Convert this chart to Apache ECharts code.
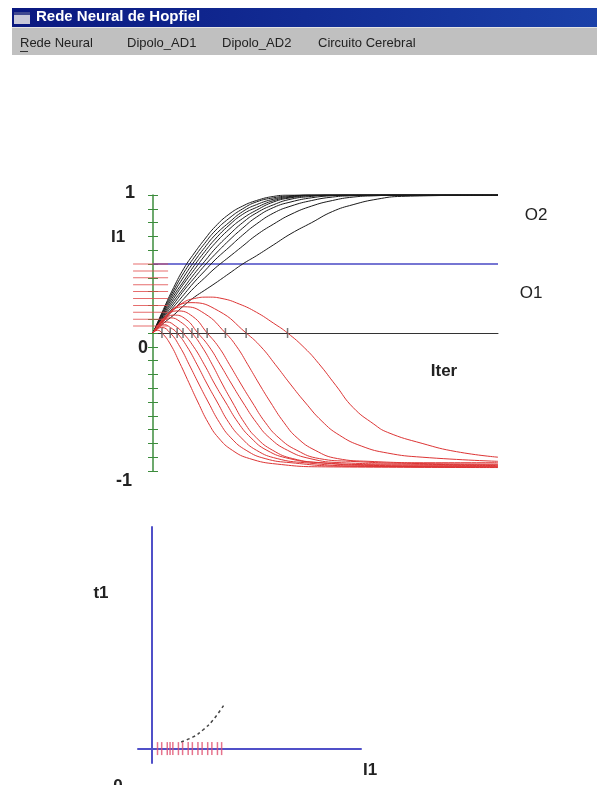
<!DOCTYPE html>
<html>
<head>
<meta charset="utf-8">
<script src="https://cdn.jsdelivr.net/npm/echarts@6/dist/echarts.min.js"></script>
<style>
html, body { margin: 0; padding: 0; background: #fff; }
#chart { width: 600px; height: 785px; }
</style>
</head>
<body>
<div id="chart"></div>
<script>
// iterations for the O2 curves (black)
var o2Iter = [0, 3, 6, 9, 12, 15, 18, 22, 26, 30, 35, 40, 46, 52, 58, 65, 72, 100];
var o2Curves = [
    [0, 0.17, 0.33, 0.47, 0.58, 0.68, 0.77, 0.86, 0.92, 0.96, 0.99, 1, 1, 1, 1, 1, 1, 1],
    [0, 0.16, 0.31, 0.44, 0.55, 0.65, 0.74, 0.83, 0.9, 0.95, 0.98, 0.995, 1, 1, 1, 1, 1, 1],
    [0, 0.15, 0.29, 0.41, 0.52, 0.62, 0.71, 0.8, 0.88, 0.93, 0.97, 0.99, 1, 1, 1, 1, 1, 1],
    [0, 0.14, 0.27, 0.38, 0.49, 0.59, 0.68, 0.78, 0.86, 0.91, 0.96, 0.985, 1, 1, 1, 1, 1, 1],
    [0, 0.13, 0.25, 0.36, 0.46, 0.56, 0.65, 0.75, 0.83, 0.89, 0.95, 0.98, 0.995, 1, 1, 1, 1, 1],
    [0, 0.12, 0.23, 0.33, 0.43, 0.52, 0.61, 0.71, 0.8, 0.87, 0.93, 0.97, 0.99, 1, 1, 1, 1, 1],
    [0, 0.11, 0.21, 0.31, 0.4, 0.49, 0.57, 0.67, 0.76, 0.84, 0.91, 0.95, 0.98, 0.995, 1, 1, 1, 1],
    [0, 0.1, 0.19, 0.28, 0.37, 0.45, 0.53, 0.62, 0.71, 0.79, 0.87, 0.92, 0.96, 0.985, 0.995, 1, 1, 1],
    [0, 0.09, 0.17, 0.25, 0.33, 0.4, 0.47, 0.55, 0.63, 0.71, 0.79, 0.86, 0.92, 0.96, 0.985, 0.995, 1, 1],
    [0, 0.07, 0.13, 0.2, 0.26, 0.31, 0.36, 0.43, 0.5, 0.56, 0.64, 0.72, 0.8, 0.88, 0.93, 0.97, 0.99, 1]
];

// O1 curves (red), [iter, value]
var o1Curves = [
    [[0,0],[1.3,0.02],[2.6,0],[5,-0.08],[7.8,-0.22],[10.4,-0.36],[13,-0.5],[16,-0.65],[19,-0.76],[23,-0.85],[28,-0.91],[36,-0.95],[50,-0.97],[100,-0.975]],
    [[0,0],[2.5,0.04],[5,0],[7.8,-0.1],[10.5,-0.23],[13.3,-0.37],[16,-0.5],[19.3,-0.65],[22.6,-0.76],[27,-0.85],[32.5,-0.91],[40,-0.94],[55,-0.965],[100,-0.97]],
    [[0,0],[1.5,0.04],[3.3,0.06],[5,0.04],[7,0],[9.9,-0.1],[12.8,-0.23],[15.7,-0.37],[18.6,-0.5],[22,-0.65],[25.6,-0.76],[30,-0.85],[36,-0.91],[44,-0.94],[60,-0.965],[100,-0.97]],
    [[0,0],[2,0.05],[4,0.08],[6.5,0.05],[8.7,0],[11.8,-0.1],[14.9,-0.23],[17.9,-0.37],[21,-0.5],[24.7,-0.65],[28.4,-0.76],[33,-0.85],[39.5,-0.91],[48,-0.94],[64,-0.96],[100,-0.965]],
    [[0,0],[2.5,0.07],[5,0.11],[8,0.08],[11.3,0],[14.2,-0.1],[17.2,-0.23],[20.1,-0.37],[23,-0.5],[26.5,-0.65],[30,-0.76],[34.7,-0.85],[40.5,-0.91],[49,-0.94],[66,-0.955],[100,-0.96]],
    [[0,0],[3,0.09],[6,0.13],[9.5,0.1],[13,0],[16.3,-0.1],[19.5,-0.23],[22.8,-0.37],[26,-0.5],[30,-0.65],[33.8,-0.76],[39,-0.85],[45.5,-0.91],[54.6,-0.94],[72,-0.95],[100,-0.955]],
    [[0,0],[3.5,0.11],[7,0.16],[11.5,0.12],[15.7,0],[19,-0.1],[22.2,-0.23],[25.5,-0.37],[28.7,-0.5],[32.6,-0.65],[36.5,-0.76],[41.7,-0.85],[48.2,-0.91],[57.3,-0.93],[75,-0.945],[100,-0.95]],
    [[0,0],[4,0.13],[9,0.19],[15,0.14],[21,0],[24.3,-0.1],[27.5,-0.23],[30.8,-0.37],[34,-0.5],[38,-0.65],[41.8,-0.76],[47,-0.85],[53.5,-0.91],[62.6,-0.93],[80,-0.94],[100,-0.94]],
    [[0,0],[5,0.15],[11,0.22],[19,0.16],[27,0],[31.3,-0.1],[35.5,-0.23],[39.8,-0.37],[44,-0.5],[49,-0.64],[54,-0.74],[60.5,-0.82],[68,-0.87],[78,-0.9],[100,-0.93]],
    [[0,0],[4,0.13],[8,0.21],[12,0.25],[16,0.26],[20,0.25],[25,0.21],[30,0.15],[35,0.07],[39,0],[44,-0.11],[48,-0.22],[53,-0.38],[58,-0.54],[64,-0.66],[68,-0.72],[78,-0.8],[88,-0.86],[100,-0.9]]
];

var inputLevels = [0.05, 0.1, 0.15, 0.2, 0.25, 0.3, 0.35, 0.4, 0.45, 0.5];
var zeroCross = [2.6, 5, 7, 8.7, 11.3, 13, 15.7, 21, 27, 39];
var iterRange = [0, 100];
var blueLevel = 0.5;

// bottom plot: t1 against I1
var i1Ticks = [0.04, 0.07, 0.11, 0.13, 0.15, 0.19, 0.22, 0.26, 0.29, 0.33, 0.36, 0.4, 0.43, 0.47, 0.5];
var t1Curve = [[0.21, 0.03], [0.3, 0.054], [0.37, 0.086], [0.44, 0.13], [0.52, 0.2]];

var menuItems = ['Rede Neural', 'Dipolo_AD1', 'Dipolo_AD2', 'Circuito Cerebral'];
var menuX = [20, 127, 222, 318];

var FONT = 'Liberation Sans, Arial, sans-serif';
var myChart = echarts.init(document.getElementById('chart'));

var series = [];
o2Curves.forEach(function (c) {
    series.push({
        type: 'line',
        xAxisIndex: 0, yAxisIndex: 0,
        data: o2Iter.map(function (x, i) { return [x, c[i]]; }),
        showSymbol: false,
        smooth: 0.5,
        lineStyle: { color: '#1a1a1a', width: 1 },
        z: 3
    });
});
o1Curves.forEach(function (c) {
    series.push({
        type: 'line',
        xAxisIndex: 0, yAxisIndex: 0,
        data: c,
        showSymbol: false,
        smooth: 0.5,
        lineStyle: { color: '#dd3535', width: 1 },
        z: 4
    });
});
// blue reference line
series.push({
    type: 'line',
    xAxisIndex: 0, yAxisIndex: 0,
    data: [[iterRange[0], blueLevel], [iterRange[1], blueLevel]],
    showSymbol: false,
    lineStyle: { color: '#4848c4', width: 1.5 },
    z: 2
});
// input level dashes on the left
series.push({
    type: 'scatter',
    xAxisIndex: 0, yAxisIndex: 0,
    data: inputLevels.map(function (v) { return [-0.7, v]; }),
    symbol: 'rect',
    symbolSize: [35, 1],
    itemStyle: { color: '#e04848' },
    clip: false,
    z: 5
});
// zero crossing marks
series.push({
    type: 'scatter',
    xAxisIndex: 0, yAxisIndex: 0,
    data: zeroCross.map(function (x) { return [x, 0]; }),
    symbol: 'rect',
    symbolSize: [1.5, 10],
    itemStyle: { color: '#555' },
    z: 6
});
// bottom plot
series.push({
    type: 'scatter',
    xAxisIndex: 1, yAxisIndex: 2,
    data: i1Ticks.map(function (x) { return [x, 0]; }),
    symbol: 'rect',
    symbolSize: [1.5, 13],
    itemStyle: { color: '#e05070' },
    z: 5
});
series.push({
    type: 'line',
    xAxisIndex: 1, yAxisIndex: 2,
    data: t1Curve,
    showSymbol: false,
    smooth: 0.4,
    lineStyle: { color: '#444', width: 1.5, type: [3, 3] },
    z: 5
});

var txt = function (x, y, s, size, weight, align) {
    return {
        type: 'text', x: x, y: y, z: 20,
        style: {
            text: s, fill: '#222', font: (weight || 'normal') + ' ' + size + 'px ' + FONT,
            textAlign: align || 'center', textVerticalAlign: 'middle'
        }
    };
};

var graphics = [
    {
        type: 'rect', shape: { x: 12, y: 8, width: 585, height: 19 },
        style: {
            fill: new echarts.graphic.LinearGradient(0, 0, 1, 0, [
                { offset: 0, color: '#0a1880' },
                { offset: 1, color: '#1a40a8' }
            ])
        }
    },
    { type: 'rect', shape: { x: 14, y: 12, width: 16, height: 12 }, style: { fill: '#c8c8d8' } },
    { type: 'rect', shape: { x: 14, y: 12, width: 16, height: 3 }, style: { fill: '#404890' } },
    {
        type: 'text', x: 36, y: 17,
        style: { text: 'Rede Neural de Hopfiel', fill: '#fff', font: 'bold 15px ' + FONT, textVerticalAlign: 'middle' }
    },
    { type: 'rect', shape: { x: 12, y: 27, width: 585, height: 28 }, style: { fill: '#c0c0c0' } },
    { type: 'rect', shape: { x: 12, y: 27, width: 585, height: 1 }, style: { fill: '#e4e4e4' } },
    { type: 'rect', shape: { x: 20, y: 51, width: 8, height: 1 }, style: { fill: '#333' } },
    txt(130, 193, '1', 18, 'bold'),
    txt(143, 348, '0', 18, 'bold'),
    txt(124, 481, '-1', 18, 'bold'),
    txt(118, 237, 'I1', 17, 'bold'),
    txt(536, 215, 'O2', 17),
    txt(531, 293, 'O1', 17),
    txt(444, 371, 'Iter', 17, 'bold'),
    txt(101, 593, 't1', 17, 'bold'),
    txt(370, 770, 'I1', 17, 'bold'),
    txt(118, 786, '0', 17, 'bold')
];
menuItems.forEach(function (m, i) {
    graphics.push({
        type: 'text', x: menuX[i], y: 43, z: 20,
        style: { text: m, fill: '#222', font: '13px ' + FONT, textVerticalAlign: 'middle' }
    });
});

var option = {
    animation: false,
    backgroundColor: '#fff',
    grid: [
        { left: 153, right: 102, top: 195, bottom: 314 },
        { left: 138, right: 239, top: 527, bottom: 22 }
    ],
    xAxis: [
        {
            type: 'value', gridIndex: 0, min: iterRange[0], max: iterRange[1],
            axisLine: { onZero: true, lineStyle: { color: '#333', width: 1 } },
            axisTick: { show: false }, axisLabel: { show: false }, splitLine: { show: false }
        },
        {
            type: 'value', gridIndex: 1, min: -0.1, max: 1.5,
            axisLine: { onZero: true, lineStyle: { color: '#5050c8', width: 2 } },
            axisTick: { show: false }, axisLabel: { show: false }, splitLine: { show: false }
        }
    ],
    yAxis: [
        {
            type: 'value', gridIndex: 0, position: 'left', min: -1, max: 1, interval: 0.1,
            axisLine: { show: true, lineStyle: { color: '#3c8c3c', width: 1.5 } },
            axisTick: { show: true, inside: true, length: 5, lineStyle: { color: '#3c8c3c', width: 1 } },
            axisLabel: { show: false }, splitLine: { show: false }
        },
        {
            type: 'value', gridIndex: 0, position: 'left', offset: 0, min: -1, max: 1, interval: 0.1,
            axisLine: { show: false },
            axisTick: { show: true, inside: false, length: 5, lineStyle: { color: '#3c8c3c', width: 1 } },
            axisLabel: { show: false }, splitLine: { show: false }
        },
        {
            type: 'value', gridIndex: 1, min: -0.065, max: 1,
            axisLine: { show: true, onZero: true, lineStyle: { color: '#5050c8', width: 2 } },
            axisTick: { show: false }, axisLabel: { show: false }, splitLine: { show: false }
        }
    ],
    graphic: graphics,
    series: series
};
myChart.setOption(option, true);
</script>
</body>
</html>
